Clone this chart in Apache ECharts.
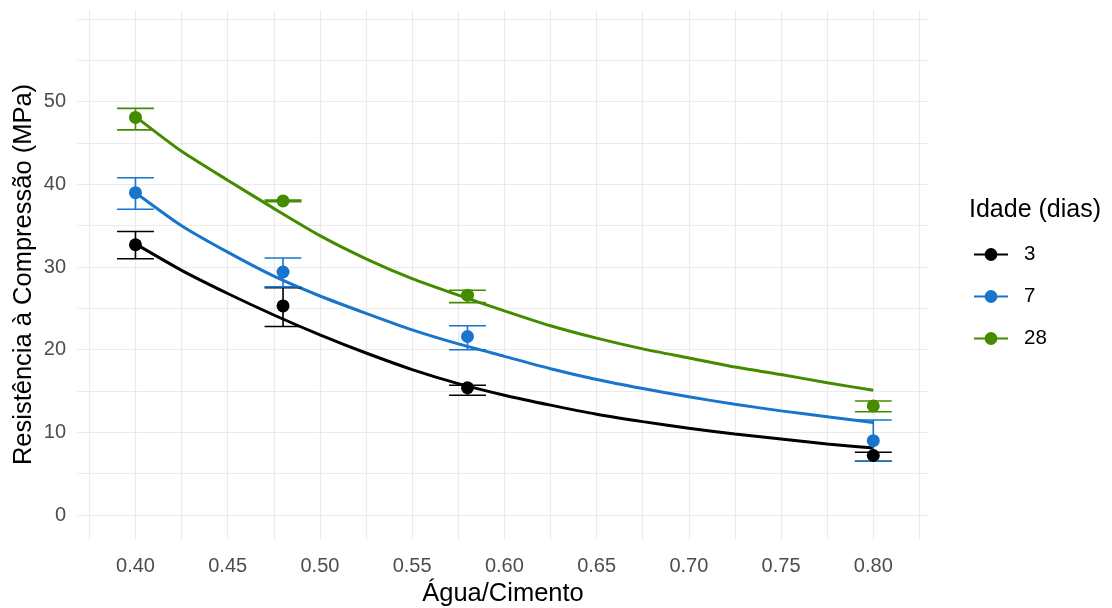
<!DOCTYPE html>
<html>
<head>
<meta charset="utf-8">
<script src="https://cdn.jsdelivr.net/npm/echarts@6/dist/echarts.min.js"></script>
<style>
  html, body { margin: 0; padding: 0; background: #fff; }
  #main { width: 1112px; height: 608px; }
</style>
</head>
<body>
<div id="main"></div>
<script>
// idades (dias) e cores
const ages = ['3', '7', '28'];
const colors = ['#000000', '#1874CD', '#458B00'];

// relação água/cimento dos ensaios
const wc = [0.40, 0.48, 0.58, 0.80];

// médias e limites das barras de erro (MPa)
const mean3 = [32.7, 25.3, 15.4, 7.2];
const low3 = [31.0, 22.8, 14.5, 6.5];
const high3 = [34.3, 27.5, 15.7, 7.6];

const mean7 = [39.0, 29.4, 21.6, 9.0];
const low7 = [37.0, 27.6, 20.0, 6.5];
const high7 = [40.8, 31.1, 22.9, 11.5];

const mean28 = [48.1, 38.0, 26.6, 13.2];
const low28 = [46.6, 37.9, 25.7, 12.5];
const high28 = [49.2, 38.1, 27.2, 13.8];

// curvas ajustadas
const fitX = [0.400, 0.425, 0.450, 0.475, 0.500, 0.525, 0.550, 0.575, 0.600,
              0.625, 0.650, 0.675, 0.700, 0.725, 0.750, 0.775, 0.800];
const fit3 = [32.8, 29.6, 26.8, 24.2, 21.8, 19.6, 17.6, 15.9, 14.5,
              13.3, 12.2, 11.3, 10.5, 9.8, 9.2, 8.6, 8.1];
const fit7 = [39.0, 35.0, 31.8, 28.9, 26.5, 24.4, 22.4, 20.7, 19.2,
              17.7, 16.4, 15.3, 14.3, 13.4, 12.6, 11.9, 11.2];
const fit28 = [48.2, 44.0, 40.5, 37.1, 33.8, 31.0, 28.6, 26.6, 24.7,
               22.9, 21.4, 20.1, 19.0, 17.9, 17.0, 16.0, 15.1];

// ticks
const xTicks = [0.40, 0.45, 0.50, 0.55, 0.60, 0.65, 0.70, 0.75, 0.80];
const xGrid = [0.375, 0.40, 0.425, 0.45, 0.475, 0.50, 0.525, 0.55, 0.575, 0.60, 0.625, 0.65, 0.675, 0.70, 0.725, 0.75, 0.775, 0.80, 0.825];
const yTicks = [0, 10, 20, 30, 40, 50];
const yGrid = [0, 5, 10, 15, 20, 25, 30, 35, 40, 45, 50, 55, 60];

const means = [mean3, mean7, mean28];
const lows = [low3, low7, low28];
const highs = [high3, high7, high28];
const fits = [fit3, fit7, fit28];

const FONT = '"Liberation Sans", Arial, sans-serif';
const errHalf = 0.01;

function errorBars(i) {
  return {
    name: ages[i],
    type: 'custom',
    z: 3,
    data: wc.map((x, k) => [x, lows[i][k], highs[i][k]]),
    renderItem: function (params, api) {
      const x = api.value(0);
      const lo = api.coord([x, api.value(1)]);
      const hi = api.coord([x, api.value(2)]);
      const l = api.coord([x - errHalf, 0])[0];
      const r = api.coord([x + errHalf, 0])[0];
      const style = { stroke: colors[i], lineWidth: 1.6 };
      return {
        type: 'group',
        children: [
          { type: 'line', shape: { x1: lo[0], y1: lo[1], x2: hi[0], y2: hi[1] }, style: style },
          { type: 'line', shape: { x1: l, y1: lo[1], x2: r, y2: lo[1] }, style: style },
          { type: 'line', shape: { x1: l, y1: hi[1], x2: r, y2: hi[1] }, style: style }
        ]
      };
    }
  };
}

const series = [];
ages.forEach((a, i) => {
  series.push({
    name: a,
    type: 'line',
    smooth: 0.2,
    symbol: 'circle',
    symbolSize: 13,
    showSymbol: false,
    z: 2,
    color: colors[i],
    lineStyle: { color: colors[i], width: 3 },
    data: fitX.map((x, k) => [x, fits[i][k]])
  });
});
ages.forEach((a, i) => series.push(errorBars(i)));
ages.forEach((a, i) => {
  series.push({
    name: a,
    type: 'scatter',
    symbol: 'circle',
    symbolSize: 13,
    z: 4,
    itemStyle: { color: colors[i], opacity: 1 },
    data: wc.map((x, k) => [x, means[i][k]])
  });
});

const chart = echarts.init(document.getElementById('main'));
chart.setOption({
  backgroundColor: '#ffffff',
  animation: false,
  textStyle: { fontFamily: FONT },
  grid: { left: 77, right: 183, top: 10, bottom: 69, containLabel: false, outerBoundsMode: 'none' },
  title: {
    text: 'Idade (dias)',
    left: 964,
    top: 193,
    textStyle: { fontFamily: FONT, fontSize: 25, fontWeight: 'normal', color: '#000' }
  },
  legend: {
    data: ages,
    orient: 'vertical',
    left: 968,
    top: 239,
    itemWidth: 34,
    itemHeight: 16,
    itemGap: 21,
    textStyle: { fontFamily: FONT, fontSize: 20.5, lineHeight: 16, color: '#000', padding: [0, 0, 0, 11] }
  },
  xAxis: {
    type: 'value',
    min: 0.3683,
    max: 0.8302,
    name: 'Água/Cimento',
    nameLocation: 'middle',
    nameGap: 40,
    nameTextStyle: { fontFamily: FONT, fontSize: 25.5, color: '#000' },
    axisLine: { show: false },
    axisTick: { show: false, customValues: xGrid },
    axisLabel: {
      customValues: xTicks,
      formatter: v => v.toFixed(2),
      fontFamily: FONT, fontSize: 20, color: '#4D4D4D', margin: 17
    },
    splitLine: { show: true, lineStyle: { color: '#EBEBEB', width: 1.2 } }
  },
  yAxis: {
    type: 'value',
    min: -2.9,
    max: 61.1,
    name: 'Resistência à Compressão (MPa)',
    nameLocation: 'middle',
    nameGap: 40,
    nameMoveOverlap: false,
    nameTextStyle: { fontFamily: FONT, fontSize: 25.5, color: '#000' },
    axisLine: { show: false },
    axisTick: { show: false, customValues: yGrid },
    axisLabel: {
      customValues: yTicks,
      fontFamily: FONT, fontSize: 20, color: '#4D4D4D', margin: 11
    },
    splitLine: { show: true, lineStyle: { color: '#EBEBEB', width: 1.2 } }
  },
  series: series
});
</script>
</body>
</html>
